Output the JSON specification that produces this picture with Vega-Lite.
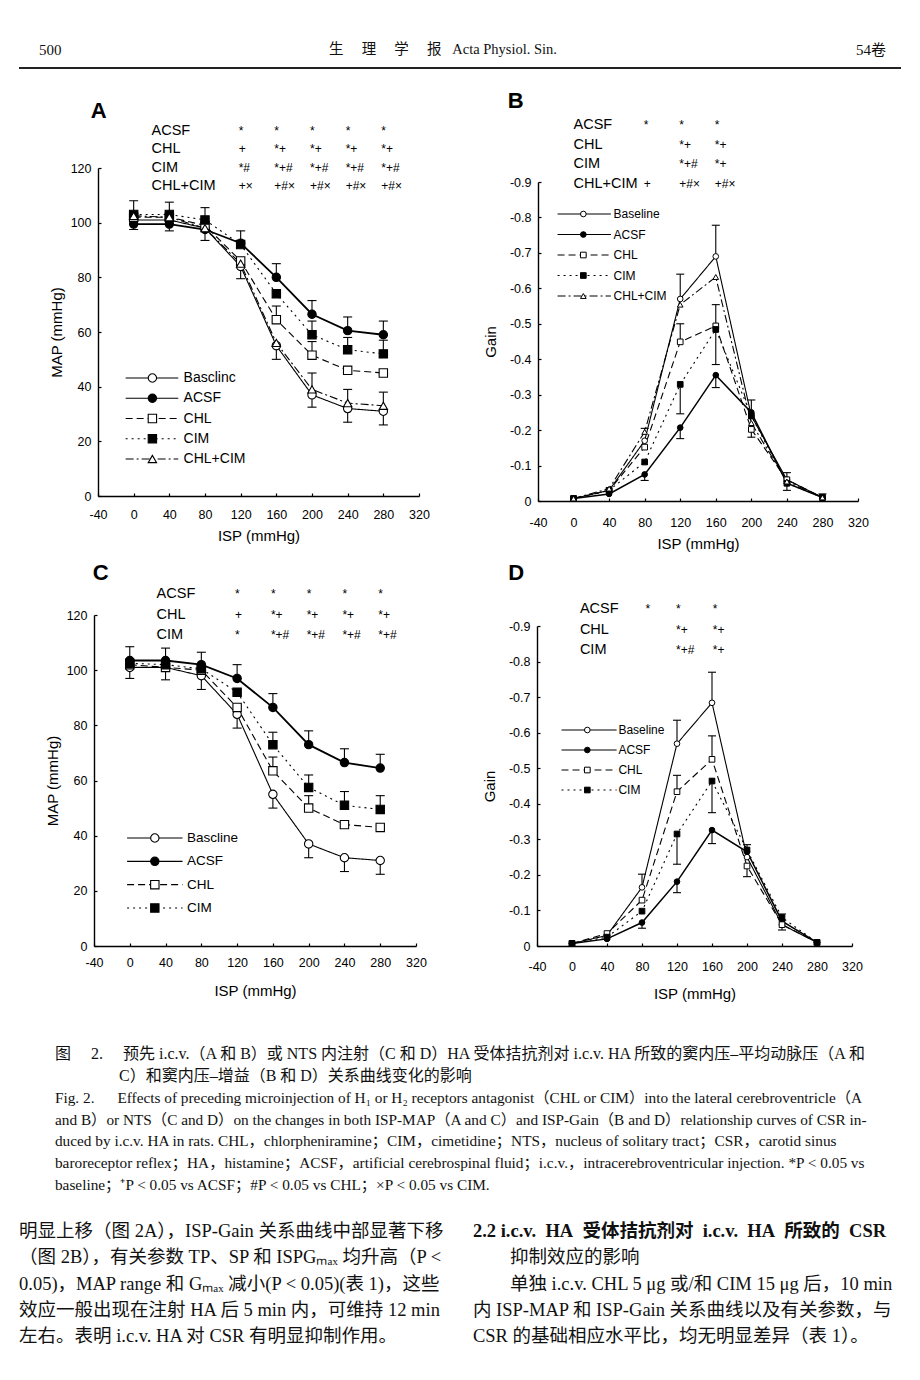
{
 "$schema": "https://vega.github.io/schema/vega-lite/v6.json",
 "background": "white",
 "padding": {"left": 18, "top": 0, "right": 0, "bottom": 0},
 "spacing": 0,
 "datasets": {
  "header": [
   {"part": "l", "t": "500"},
   {"part": "c", "t": "生\u3000\u00a0理\u3000\u00a0学\u3000\u00a0报\u00a0\u00a0\u00a0Acta Physiol. Sin."},
   {"part": "r", "t": "54卷"}
  ],
  "curves": [
   {"p":"A","s":"Baseline","x":0,"v":101},{"p":"A","s":"Baseline","x":40,"v":101},{"p":"A","s":"Baseline","x":80,"v":98,"e":93.5},{"p":"A","s":"Baseline","x":120,"v":84,"e":79.5},{"p":"A","s":"Baseline","x":160,"v":55,"e":50},{"p":"A","s":"Baseline","x":200,"v":37,"e":32.5},{"p":"A","s":"Baseline","x":240,"v":32,"e":27},{"p":"A","s":"Baseline","x":280,"v":31,"e":26},
   {"p":"A","s":"ACSF","x":0,"v":99.5,"e":97.5},{"p":"A","s":"ACSF","x":40,"v":99.5,"e":97},{"p":"A","s":"ACSF","x":80,"v":97.5},{"p":"A","s":"ACSF","x":120,"v":92.5,"e":97},{"p":"A","s":"ACSF","x":160,"v":80,"e":85},{"p":"A","s":"ACSF","x":200,"v":66.5,"e":71.5},{"p":"A","s":"ACSF","x":240,"v":60.5,"e":65.5},{"p":"A","s":"ACSF","x":280,"v":59,"e":64},
   {"p":"A","s":"CHL","x":0,"v":102},{"p":"A","s":"CHL","x":40,"v":102},{"p":"A","s":"CHL","x":80,"v":99},{"p":"A","s":"CHL","x":120,"v":86},{"p":"A","s":"CHL","x":160,"v":64.5,"e":69.5},{"p":"A","s":"CHL","x":200,"v":51.5,"e":56.5},{"p":"A","s":"CHL","x":240,"v":46},{"p":"A","s":"CHL","x":280,"v":45},
   {"p":"A","s":"CIM","x":0,"v":103},{"p":"A","s":"CIM","x":40,"v":103},{"p":"A","s":"CIM","x":80,"v":101,"e":105.5},{"p":"A","s":"CIM","x":120,"v":92},{"p":"A","s":"CIM","x":160,"v":74},{"p":"A","s":"CIM","x":200,"v":59,"e":64},{"p":"A","s":"CIM","x":240,"v":53.5,"e":58},{"p":"A","s":"CIM","x":280,"v":52,"e":57},
   {"p":"A","s":"CHL+CIM","x":0,"v":102.5,"e":108},{"p":"A","s":"CHL+CIM","x":40,"v":102,"e":107.5},{"p":"A","s":"CHL+CIM","x":80,"v":98},{"p":"A","s":"CHL+CIM","x":120,"v":85},{"p":"A","s":"CHL+CIM","x":160,"v":56},{"p":"A","s":"CHL+CIM","x":200,"v":39,"e":45},{"p":"A","s":"CHL+CIM","x":240,"v":34,"e":39},{"p":"A","s":"CHL+CIM","x":280,"v":33,"e":38},

   {"p":"B","s":"Baseline","x":0,"v":-0.007},{"p":"B","s":"Baseline","x":40,"v":-0.03},{"p":"B","s":"Baseline","x":80,"v":-0.17},{"p":"B","s":"Baseline","x":120,"v":-0.57,"e":-0.64},{"p":"B","s":"Baseline","x":160,"v":-0.69,"e":-0.778},{"p":"B","s":"Baseline","x":200,"v":-0.24,"e":-0.285},{"p":"B","s":"Baseline","x":240,"v":-0.06,"e":-0.08},{"p":"B","s":"Baseline","x":280,"v":-0.01,"e":-0.02},
   {"p":"B","s":"ACSF","x":0,"v":-0.007},{"p":"B","s":"ACSF","x":40,"v":-0.02},{"p":"B","s":"ACSF","x":80,"v":-0.075,"e":-0.058},{"p":"B","s":"ACSF","x":120,"v":-0.207,"e":-0.176},{"p":"B","s":"ACSF","x":160,"v":-0.355,"e":-0.32},{"p":"B","s":"ACSF","x":200,"v":-0.25},{"p":"B","s":"ACSF","x":240,"v":-0.05},{"p":"B","s":"ACSF","x":280,"v":-0.01},
   {"p":"B","s":"CHL","x":0,"v":-0.007},{"p":"B","s":"CHL","x":40,"v":-0.03},{"p":"B","s":"CHL","x":80,"v":-0.152},{"p":"B","s":"CHL","x":120,"v":-0.449,"e":-0.5},{"p":"B","s":"CHL","x":160,"v":-0.494,"e":-0.554},{"p":"B","s":"CHL","x":200,"v":-0.202,"e":-0.18},{"p":"B","s":"CHL","x":240,"v":-0.06},{"p":"B","s":"CHL","x":280,"v":-0.01},
   {"p":"B","s":"CIM","x":0,"v":-0.007},{"p":"B","s":"CIM","x":40,"v":-0.03},{"p":"B","s":"CIM","x":80,"v":-0.11},{"p":"B","s":"CIM","x":120,"v":-0.329,"e":-0.246},{"p":"B","s":"CIM","x":160,"v":-0.484,"e":-0.385},{"p":"B","s":"CIM","x":200,"v":-0.24},{"p":"B","s":"CIM","x":240,"v":-0.05,"e":-0.03},{"p":"B","s":"CIM","x":280,"v":-0.01},
   {"p":"B","s":"CHL+CIM","x":0,"v":-0.007},{"p":"B","s":"CHL+CIM","x":40,"v":-0.035},{"p":"B","s":"CHL+CIM","x":80,"v":-0.195,"e":-0.205},{"p":"B","s":"CHL+CIM","x":120,"v":-0.554},{"p":"B","s":"CHL+CIM","x":160,"v":-0.632},{"p":"B","s":"CHL+CIM","x":200,"v":-0.22},{"p":"B","s":"CHL+CIM","x":240,"v":-0.055},{"p":"B","s":"CHL+CIM","x":280,"v":-0.01},

   {"p":"C","s":"Baseline","x":0,"v":101,"e":97},{"p":"C","s":"Baseline","x":40,"v":101,"e":96.5},{"p":"C","s":"Baseline","x":80,"v":98,"e":93},{"p":"C","s":"Baseline","x":120,"v":84,"e":79},{"p":"C","s":"Baseline","x":160,"v":55,"e":50},{"p":"C","s":"Baseline","x":200,"v":37,"e":32},{"p":"C","s":"Baseline","x":240,"v":32,"e":27},{"p":"C","s":"Baseline","x":280,"v":31,"e":26},
   {"p":"C","s":"ACSF","x":0,"v":103.5,"e":108.5},{"p":"C","s":"ACSF","x":40,"v":103.5,"e":108},{"p":"C","s":"ACSF","x":80,"v":102,"e":106.5},{"p":"C","s":"ACSF","x":120,"v":97,"e":102},{"p":"C","s":"ACSF","x":160,"v":86.5,"e":91.5},{"p":"C","s":"ACSF","x":200,"v":73,"e":78},{"p":"C","s":"ACSF","x":240,"v":66.5,"e":71.5},{"p":"C","s":"ACSF","x":280,"v":64.5,"e":69.5},
   {"p":"C","s":"CHL","x":0,"v":102},{"p":"C","s":"CHL","x":40,"v":101},{"p":"C","s":"CHL","x":80,"v":100},{"p":"C","s":"CHL","x":120,"v":86.5},{"p":"C","s":"CHL","x":160,"v":63.5,"e":68.5},{"p":"C","s":"CHL","x":200,"v":50,"e":54.5},{"p":"C","s":"CHL","x":240,"v":44},{"p":"C","s":"CHL","x":280,"v":43},
   {"p":"C","s":"CIM","x":0,"v":102.5},{"p":"C","s":"CIM","x":40,"v":102},{"p":"C","s":"CIM","x":80,"v":100.5},{"p":"C","s":"CIM","x":120,"v":92},{"p":"C","s":"CIM","x":160,"v":73,"e":77.5},{"p":"C","s":"CIM","x":200,"v":57.5,"e":62},{"p":"C","s":"CIM","x":240,"v":51,"e":56},{"p":"C","s":"CIM","x":280,"v":49.5,"e":54.5},

   {"p":"D","s":"Baseline","x":0,"v":-0.007},{"p":"D","s":"Baseline","x":40,"v":-0.03},{"p":"D","s":"Baseline","x":80,"v":-0.165,"e":-0.202},{"p":"D","s":"Baseline","x":120,"v":-0.569,"e":-0.635},{"p":"D","s":"Baseline","x":160,"v":-0.684,"e":-0.77},{"p":"D","s":"Baseline","x":200,"v":-0.25},{"p":"D","s":"Baseline","x":240,"v":-0.06,"e":-0.045},{"p":"D","s":"Baseline","x":280,"v":-0.01},
   {"p":"D","s":"ACSF","x":0,"v":-0.007},{"p":"D","s":"ACSF","x":40,"v":-0.02},{"p":"D","s":"ACSF","x":80,"v":-0.066,"e":-0.05},{"p":"D","s":"ACSF","x":120,"v":-0.181,"e":-0.15},{"p":"D","s":"ACSF","x":160,"v":-0.326,"e":-0.288},{"p":"D","s":"ACSF","x":200,"v":-0.265},{"p":"D","s":"ACSF","x":240,"v":-0.07,"e":-0.09},{"p":"D","s":"ACSF","x":280,"v":-0.01},
   {"p":"D","s":"CHL","x":0,"v":-0.007},{"p":"D","s":"CHL","x":40,"v":-0.035},{"p":"D","s":"CHL","x":80,"v":-0.129},{"p":"D","s":"CHL","x":120,"v":-0.434,"e":-0.48},{"p":"D","s":"CHL","x":160,"v":-0.525,"e":-0.591},{"p":"D","s":"CHL","x":200,"v":-0.225,"e":-0.195},{"p":"D","s":"CHL","x":240,"v":-0.06},{"p":"D","s":"CHL","x":280,"v":-0.01},
   {"p":"D","s":"CIM","x":0,"v":-0.007},{"p":"D","s":"CIM","x":40,"v":-0.025},{"p":"D","s":"CIM","x":80,"v":-0.098},{"p":"D","s":"CIM","x":120,"v":-0.315,"e":-0.23},{"p":"D","s":"CIM","x":160,"v":-0.464,"e":-0.375},{"p":"D","s":"CIM","x":200,"v":-0.27,"e":-0.285},{"p":"D","s":"CIM","x":240,"v":-0.08},{"p":"D","s":"CIM","x":280,"v":-0.01}
  ],
  "annot": [
   {"p":"A","r":"ACSF","x":120,"t":"*"},{"p":"A","r":"ACSF","x":160,"t":"*"},{"p":"A","r":"ACSF","x":200,"t":"*"},{"p":"A","r":"ACSF","x":240,"t":"*"},{"p":"A","r":"ACSF","x":280,"t":"*"},
   {"p":"A","r":"CHL","x":120,"t":"+"},{"p":"A","r":"CHL","x":160,"t":"*+"},{"p":"A","r":"CHL","x":200,"t":"*+"},{"p":"A","r":"CHL","x":240,"t":"*+"},{"p":"A","r":"CHL","x":280,"t":"*+"},
   {"p":"A","r":"CIM","x":120,"t":"*#"},{"p":"A","r":"CIM","x":160,"t":"*+#"},{"p":"A","r":"CIM","x":200,"t":"*+#"},{"p":"A","r":"CIM","x":240,"t":"*+#"},{"p":"A","r":"CIM","x":280,"t":"*+#"},
   {"p":"A","r":"CHL+CIM","x":120,"t":"+×"},{"p":"A","r":"CHL+CIM","x":160,"t":"+#×"},{"p":"A","r":"CHL+CIM","x":200,"t":"+#×"},{"p":"A","r":"CHL+CIM","x":240,"t":"+#×"},{"p":"A","r":"CHL+CIM","x":280,"t":"+#×"},
   {"p":"B","r":"ACSF","x":80,"t":"*"},{"p":"B","r":"ACSF","x":120,"t":"*"},{"p":"B","r":"ACSF","x":160,"t":"*"},
   {"p":"B","r":"CHL","x":120,"t":"*+"},{"p":"B","r":"CHL","x":160,"t":"*+"},
   {"p":"B","r":"CIM","x":120,"t":"*+#"},{"p":"B","r":"CIM","x":160,"t":"*+"},
   {"p":"B","r":"CHL+CIM","x":80,"t":"+"},{"p":"B","r":"CHL+CIM","x":120,"t":"+#×"},{"p":"B","r":"CHL+CIM","x":160,"t":"+#×"},
   {"p":"C","r":"ACSF","x":120,"t":"*"},{"p":"C","r":"ACSF","x":160,"t":"*"},{"p":"C","r":"ACSF","x":200,"t":"*"},{"p":"C","r":"ACSF","x":240,"t":"*"},{"p":"C","r":"ACSF","x":280,"t":"*"},
   {"p":"C","r":"CHL","x":120,"t":"+"},{"p":"C","r":"CHL","x":160,"t":"*+"},{"p":"C","r":"CHL","x":200,"t":"*+"},{"p":"C","r":"CHL","x":240,"t":"*+"},{"p":"C","r":"CHL","x":280,"t":"*+"},
   {"p":"C","r":"CIM","x":120,"t":"*"},{"p":"C","r":"CIM","x":160,"t":"*+#"},{"p":"C","r":"CIM","x":200,"t":"*+#"},{"p":"C","r":"CIM","x":240,"t":"*+#"},{"p":"C","r":"CIM","x":280,"t":"*+#"},
   {"p":"D","r":"ACSF","x":85,"t":"*"},{"p":"D","r":"ACSF","x":120,"t":"*"},{"p":"D","r":"ACSF","x":162,"t":"*"},
   {"p":"D","r":"CHL","x":120,"t":"*+"},{"p":"D","r":"CHL","x":162,"t":"*+"},
   {"p":"D","r":"CIM","x":120,"t":"*+#"},{"p":"D","r":"CIM","x":162,"t":"*+"}
  ],
  "legend": [
   {"p":"A","s":"Baseline","l":"Basclinc"},{"p":"A","s":"ACSF","l":"ACSF"},{"p":"A","s":"CHL","l":"CHL"},{"p":"A","s":"CIM","l":"CIM"},{"p":"A","s":"CHL+CIM","l":"CHL+CIM"},
   {"p":"B","s":"Baseline","l":"Baseline"},{"p":"B","s":"ACSF","l":"ACSF"},{"p":"B","s":"CHL","l":"CHL"},{"p":"B","s":"CIM","l":"CIM"},{"p":"B","s":"CHL+CIM","l":"CHL+CIM"},
   {"p":"C","s":"Baseline","l":"Bascline"},{"p":"C","s":"ACSF","l":"ACSF"},{"p":"C","s":"CHL","l":"CHL"},{"p":"C","s":"CIM","l":"CIM"},
   {"p":"D","s":"Baseline","l":"Baseline"},{"p":"D","s":"ACSF","l":"ACSF"},{"p":"D","s":"CHL","l":"CHL"},{"p":"D","s":"CIM","l":"CIM"}
  ],
  "caption": [
   {"c":"c","line":0,"cjk":true,"t":"图\u3000\u00a02.\u3000\u00a0预先 i.c.v.（A 和 B）或 NTS 内注射（C 和 D）HA 受体拮抗剂对 i.c.v. HA 所致的窦内压–平均动脉压（A 和"},
   {"c":"c","line":1,"cjk":true,"t":"\u200b\u3000\u3000\u3000\u3000C）和窦内压–增益（B 和 D）关系曲线变化的影响"},
   {"c":"c","line":2,"cjk":false,"t":"Fig. 2.\u3000\u00a0\u00a0Effects of preceding microinjection of H₁ or H₂ receptors antagonist（CHL or CIM）into the lateral cerebroventricle（A"},
   {"c":"c","line":3,"cjk":false,"t":"and B）or NTS（C and D）on the changes in both ISP-MAP（A and C）and ISP-Gain（B and D）relationship curves of CSR in-"},
   {"c":"c","line":4,"cjk":false,"t":"duced by i.c.v. HA in rats. CHL，chlorpheniramine；CIM，cimetidine；NTS，nucleus of solitary tract；CSR，carotid sinus"},
   {"c":"c","line":5,"cjk":false,"t":"baroreceptor reflex；HA，histamine；ACSF，artificial cerebrospinal fluid；i.c.v.，intracerebroventricular injection. *P < 0.05 vs"},
   {"c":"c","line":6,"cjk":false,"t":"baseline；⁺P < 0.05 vs ACSF；#P < 0.05 vs CHL；×P < 0.05 vs CIM."}
  ],
  "body": [
   {"c":"L","line":0,"b":false,"t":"明显上移（图 2A），ISP-Gain 关系曲线中部显著下移"},
   {"c":"L","line":1,"b":false,"t":"（图 2B），有关参数 TP、SP 和 ISPGₘₐₓ 均升高（P <"},
   {"c":"L","line":2,"b":false,"t":"0.05)，MAP range 和 Gₘₐₓ 减小(P < 0.05)(表 1)，这些"},
   {"c":"L","line":3,"b":false,"t":"效应一般出现在注射 HA 后 5 min 内，可维持 12 min"},
   {"c":"L","line":4,"b":false,"t":"左右。表明 i.c.v. HA 对 CSR 有明显抑制作用。"},
   {"c":"R","line":0,"b":true,"t":"2.2\u00a0i.c.v.\u00a0 HA\u00a0 受体拮抗剂对\u00a0 i.c.v.\u00a0 HA\u00a0 所致的\u00a0 CSR"},
   {"c":"R","line":1,"b":false,"t":"\u200b\u3000\u3000抑制效应的影响"},
   {"c":"R","line":2,"b":false,"t":"\u200b\u3000\u3000单独 i.c.v. CHL 5 μg 或/和 CIM 15 μg 后，10 min"},
   {"c":"R","line":3,"b":false,"t":"内 ISP-MAP 和 ISP-Gain 关系曲线以及有关参数，与"},
   {"c":"R","line":4,"b":false,"t":"CSR 的基础相应水平比，均无明显差异（表 1）。"}
  ]
 },
 "vconcat": [
  {
   "width": 882, "height": 68,
   "layer": [
    {"data": {"values": [{"k": 1}]}, "mark": {"type": "rule", "color": "#222", "strokeWidth": 1.8},
     "encoding": {"y": {"datum": 0, "type": "quantitative", "scale": {"domain": [0, 1]}, "axis": null}}},
    {"data": {"name": "header"}, "transform": [{"filter": "datum.part === 'l'"}],
     "mark": {"type": "text", "align": "left", "baseline": "middle", "font": "Liberation Serif, Noto Sans CJK SC", "fontSize": 15, "color": "#111"},
     "encoding": {"x": {"field": "part", "type": "nominal", "scale": {"type": "point", "domain": ["l", "c", "r"], "padding": 0.0475}, "axis": null},
                  "y": {"datum": 0.26, "type": "quantitative"}, "text": {"field": "t"}}},
    {"data": {"name": "header"}, "transform": [{"filter": "datum.part === 'c'"}],
     "mark": {"type": "text", "align": "center", "baseline": "middle", "dx": -17, "font": "Liberation Serif, Noto Sans CJK SC", "fontSize": 14.5, "color": "#111"},
     "encoding": {"x": {"field": "part", "type": "nominal"}, "y": {"datum": 0.26, "type": "quantitative"}, "text": {"field": "t"}}},
    {"data": {"name": "header"}, "transform": [{"filter": "datum.part === 'r'"}],
     "mark": {"type": "text", "align": "right", "baseline": "middle", "dx": 5, "font": "Liberation Serif, Noto Sans CJK SC", "fontSize": 15, "color": "#111"},
     "encoding": {"x": {"field": "part", "type": "nominal"}, "y": {"datum": 0.26, "type": "quantitative"}, "text": {"field": "t"}}}
   ]
  },
  {
   "spacing": 0,
   "hconcat": [
    {"width": 30, "height": 1, "data": {"values": [{"k": 1}]}, "mark": {"type": "text", "text": ""}},
    {"spacing": 0, "bounds": "flush", "vconcat": [
     {"width": 1, "height": 93, "data": {"values": [{"k": 1}]}, "mark": {"type": "text", "text": ""}},
     {
      "width": 321, "height": 328,
      "resolve": {"scale": {"y": "independent"}},
      "layer": [
       {"data": {"name": "curves"}, "transform": [{"filter": "datum.p === 'A'"}],
        "layer": [
         {"transform": [{"filter": "datum.s !== 'ACSF'"}],
          "mark": {"type": "line", "color": "black", "strokeWidth": 1.1},
          "encoding": {
           "x": {"field": "x", "type": "quantitative", "scale": {"domain": [-40, 320], "nice": false, "zero": false},
                 "axis": {"values": [-40,0,40,80,120,160,200,240,280,320], "tickCount": 30, "labelExpr": "datum.value < 0 ? '-' + abs(datum.value) : '' + datum.value", "title": "ISP (mmHg)", "labelPadding": 15, "titlePadding": 8, "labelOverlap": false, "labelBound": false}},
           "y": {"field": "v", "type": "quantitative", "scale": {"domain": [0, 120], "nice": false},
                 "axis": {"values": [0,20,40,60,80,100,120], "tickCount": 30, "title": "MAP (mmHg)", "titlePadding": 6, "labelPadding": 10, "labelOverlap": false, "labelBound": false}},
           "strokeDash": {"field": "s", "type": "nominal", "scale": {"domain": ["Baseline","ACSF","CHL","CIM","CHL+CIM"], "range": [[1,0],[1,0],[7,4],[2,4],[8,3,2,3]]}, "legend": null}
          }},
         {"transform": [{"filter": "datum.s === 'ACSF'"}],
          "mark": {"type": "line", "color": "black", "strokeWidth": 1.8},
          "encoding": {"x": {"field": "x", "type": "quantitative"}, "y": {"field": "v", "type": "quantitative"}}},
         {"transform": [{"filter": "isValid(datum.e)"}],
          "mark": {"type": "rule", "color": "black", "strokeWidth": 1.1},
          "encoding": {"x": {"field": "x", "type": "quantitative"}, "y": {"field": "v", "type": "quantitative"}, "y2": {"field": "e"}}},
         {"transform": [{"filter": "isValid(datum.e)"}],
          "mark": {"type": "tick", "orient": "horizontal", "color": "black", "size": 9, "thickness": 1.1, "opacity": 1},
          "encoding": {"x": {"field": "x", "type": "quantitative"}, "y": {"field": "e", "type": "quantitative"}}},
         {"mark": {"type": "point", "filled": true, "stroke": "black", "strokeWidth": 1.1, "size": 70, "opacity": 1},
          "encoding": {"x": {"field": "x", "type": "quantitative"}, "y": {"field": "v", "type": "quantitative"},
           "shape": {"field": "s", "type": "nominal", "scale": {"domain": ["Baseline","ACSF","CHL","CIM","CHL+CIM"], "range": ["circle","circle","square","square","triangle-up"]}, "legend": null},
           "fill": {"field": "s", "type": "nominal", "scale": {"domain": ["Baseline","ACSF","CHL","CIM","CHL+CIM"], "range": ["white","black","white","black","white"]}, "legend": null}}}
        ]},
       {"data": {"values": [{"t": "A"}]},
        "mark": {"type": "text", "align": "left", "baseline": "middle", "fontSize": 22, "fontWeight": "bold", "color": "black"},
        "encoding": {"x": {"datum": -48}, "y": {"field": "t", "type": "nominal", "scale": {"type": "point", "domain": ["A"], "range": [-57, -57]}, "axis": null}, "text": {"field": "t"}}},
       {"data": {"name": "annot"}, "transform": [{"filter": "datum.p === 'A'"}, {"aggregate": [{"op": "count", "as": "n"}], "groupby": ["r"]}],
        "mark": {"type": "text", "align": "left", "baseline": "middle", "fontSize": 14.5, "color": "black"},
        "encoding": {"x": {"datum": 20}, "y": {"field": "r", "type": "nominal", "scale": {"type": "point", "domain": ["ACSF","CHL","CIM","CHL+CIM"], "range": [-37, 18], "padding": 0}, "axis": null}, "text": {"field": "r"}}},
       {"data": {"name": "annot"}, "transform": [{"filter": "datum.p === 'A'"}],
        "mark": {"type": "text", "align": "left", "baseline": "middle", "fontSize": 12, "dx": -2, "color": "black"},
        "encoding": {"x": {"field": "x", "type": "quantitative"}, "y": {"field": "r", "type": "nominal", "scale": {"type": "point", "domain": ["ACSF","CHL","CIM","CHL+CIM"], "range": [-37, 18], "padding": 0}, "axis": null}, "text": {"field": "t"}}},
       {"data": {"name": "legend"}, "transform": [{"filter": "datum.p === 'A'"}],
        "mark": {"type": "rule", "color": "black", "strokeWidth": 1.1},
        "encoding": {"x": {"datum": -9}, "x2": {"datum": 50},
         "y": {"field": "s", "type": "nominal", "scale": {"type": "point", "domain": ["Baseline","ACSF","CHL","CIM","CHL+CIM"], "range": [210, 291], "padding": 0}, "axis": null},
         "strokeDash": {"field": "s", "type": "nominal", "legend": null}}},
       {"data": {"name": "legend"}, "transform": [{"filter": "datum.p === 'A'"}],
        "mark": {"type": "point", "filled": true, "stroke": "black", "strokeWidth": 1.1, "size": 70, "opacity": 1},
        "encoding": {"x": {"datum": 21},
         "y": {"field": "s", "type": "nominal", "scale": {"type": "point", "domain": ["Baseline","ACSF","CHL","CIM","CHL+CIM"], "range": [210, 291], "padding": 0}, "axis": null},
         "shape": {"field": "s", "type": "nominal", "legend": null}, "fill": {"field": "s", "type": "nominal", "legend": null}}},
       {"data": {"name": "legend"}, "transform": [{"filter": "datum.p === 'A'"}],
        "mark": {"type": "text", "align": "left", "baseline": "middle", "fontSize": 14, "color": "black"},
        "encoding": {"x": {"datum": 56},
         "y": {"field": "s", "type": "nominal", "scale": {"type": "point", "domain": ["Baseline","ACSF","CHL","CIM","CHL+CIM"], "range": [210, 291], "padding": 0}, "axis": null},
         "text": {"field": "l"}}}
      ]
     }
    ]},
    {"width": 53, "height": 1, "data": {"values": [{"k": 1}]}, "mark": {"type": "text", "text": ""}},
    {"spacing": 0, "bounds": "flush", "vconcat": [
     {"width": 1, "height": 107, "data": {"values": [{"k": 1}]}, "mark": {"type": "text", "text": ""}},
     {
      "width": 320, "height": 319,
      "resolve": {"scale": {"y": "independent"}},
      "layer": [
       {"data": {"name": "curves"}, "transform": [{"filter": "datum.p === 'B'"}],
        "layer": [
         {"transform": [{"filter": "datum.s !== 'ACSF'"}],
          "mark": {"type": "line", "color": "black", "strokeWidth": 1.1},
          "encoding": {
           "x": {"field": "x", "type": "quantitative", "scale": {"domain": [-40, 320], "nice": false, "zero": false},
                 "axis": {"values": [-40,0,40,80,120,160,200,240,280,320], "tickCount": 30, "labelExpr": "datum.value < 0 ? '-' + abs(datum.value) : '' + datum.value", "title": "ISP (mmHg)", "labelPadding": 18, "titlePadding": 8, "labelOverlap": false, "labelBound": false}},
           "y": {"field": "v", "type": "quantitative", "scale": {"domain": [-0.9, 0], "reverse": true, "nice": false, "zero": false},
                 "axis": {"values": [0,-0.1,-0.2,-0.3,-0.4,-0.5,-0.6,-0.7,-0.8,-0.9], "tickCount": 30, "labelExpr": "datum.value === 0 ? '0' : '-' + format(abs(datum.value), '.1f')", "title": "Gain", "titlePadding": 11, "labelPadding": 10, "labelOverlap": false, "labelBound": false}},
           "strokeDash": {"field": "s", "type": "nominal", "scale": {"domain": ["Baseline","ACSF","CHL","CIM","CHL+CIM"], "range": [[1,0],[1,0],[7,4],[2,4],[8,3,2,3]]}, "legend": null}
          }},
         {"transform": [{"filter": "datum.s === 'ACSF'"}],
          "mark": {"type": "line", "color": "black", "strokeWidth": 1.5},
          "encoding": {"x": {"field": "x", "type": "quantitative"}, "y": {"field": "v", "type": "quantitative"}}},
         {"transform": [{"filter": "isValid(datum.e)"}],
          "mark": {"type": "rule", "color": "black", "strokeWidth": 1.1},
          "encoding": {"x": {"field": "x", "type": "quantitative"}, "y": {"field": "v", "type": "quantitative"}, "y2": {"field": "e"}}},
         {"transform": [{"filter": "isValid(datum.e)"}],
          "mark": {"type": "tick", "orient": "horizontal", "color": "black", "size": 8, "thickness": 1.1, "opacity": 1},
          "encoding": {"x": {"field": "x", "type": "quantitative"}, "y": {"field": "e", "type": "quantitative"}}},
         {"mark": {"type": "point", "filled": true, "stroke": "black", "strokeWidth": 1, "size": 32, "opacity": 1},
          "encoding": {"x": {"field": "x", "type": "quantitative"}, "y": {"field": "v", "type": "quantitative"},
           "shape": {"field": "s", "type": "nominal", "legend": null},
           "fill": {"field": "s", "type": "nominal", "legend": null}}}
        ]},
       {"data": {"values": [{"t": "B"}]},
        "mark": {"type": "text", "align": "left", "baseline": "middle", "fontSize": 22, "fontWeight": "bold", "color": "black"},
        "encoding": {"x": {"datum": -74}, "y": {"field": "t", "type": "nominal", "scale": {"type": "point", "domain": ["B"], "range": [-81, -81]}, "axis": null}, "text": {"field": "t"}}},
       {"data": {"name": "annot"}, "transform": [{"filter": "datum.p === 'B'"}, {"aggregate": [{"op": "count", "as": "n"}], "groupby": ["r"]}],
        "mark": {"type": "text", "align": "left", "baseline": "middle", "fontSize": 14.5, "color": "black"},
        "encoding": {"x": {"datum": 0}, "y": {"field": "r", "type": "nominal", "scale": {"type": "point", "domain": ["ACSF","CHL","CIM","CHL+CIM"], "range": [-57, 2], "padding": 0}, "axis": null}, "text": {"field": "r"}}},
       {"data": {"name": "annot"}, "transform": [{"filter": "datum.p === 'B'"}],
        "mark": {"type": "text", "align": "left", "baseline": "middle", "fontSize": 12, "dx": -1, "color": "black"},
        "encoding": {"x": {"field": "x", "type": "quantitative"}, "y": {"field": "r", "type": "nominal", "scale": {"type": "point", "domain": ["ACSF","CHL","CIM","CHL+CIM"], "range": [-57, 2], "padding": 0}, "axis": null}, "text": {"field": "t"}}},
       {"data": {"name": "legend"}, "transform": [{"filter": "datum.p === 'B'"}],
        "mark": {"type": "rule", "color": "black", "strokeWidth": 1.1},
        "encoding": {"x": {"datum": -18}, "x2": {"datum": 42},
         "y": {"field": "s", "type": "nominal", "scale": {"type": "point", "domain": ["Baseline","ACSF","CHL","CIM","CHL+CIM"], "range": [32, 114], "padding": 0}, "axis": null},
         "strokeDash": {"field": "s", "type": "nominal", "legend": null}}},
       {"data": {"name": "legend"}, "transform": [{"filter": "datum.p === 'B'"}],
        "mark": {"type": "point", "filled": true, "stroke": "black", "strokeWidth": 1, "size": 32, "opacity": 1},
        "encoding": {"x": {"datum": 11},
         "y": {"field": "s", "type": "nominal", "scale": {"type": "point", "domain": ["Baseline","ACSF","CHL","CIM","CHL+CIM"], "range": [32, 114], "padding": 0}, "axis": null},
         "shape": {"field": "s", "type": "nominal", "legend": null}, "fill": {"field": "s", "type": "nominal", "legend": null}}},
       {"data": {"name": "legend"}, "transform": [{"filter": "datum.p === 'B'"}],
        "mark": {"type": "text", "align": "left", "baseline": "middle", "fontSize": 12, "color": "black"},
        "encoding": {"x": {"datum": 45},
         "y": {"field": "s", "type": "nominal", "scale": {"type": "point", "domain": ["Baseline","ACSF","CHL","CIM","CHL+CIM"], "range": [32, 114], "padding": 0}, "axis": null},
         "text": {"field": "l"}}}
      ]
     }
    ]}
   ]
  },
  {
   "spacing": 0,
   "hconcat": [
    {"width": 26, "height": 1, "data": {"values": [{"k": 1}]}, "mark": {"type": "text", "text": ""}},
    {"spacing": 0, "bounds": "flush", "vconcat": [
     {"width": 1, "height": 57, "data": {"values": [{"k": 1}]}, "mark": {"type": "text", "text": ""}},
     {
      "width": 322, "height": 331,
      "resolve": {"scale": {"y": "independent"}},
      "layer": [
       {"data": {"name": "curves"}, "transform": [{"filter": "datum.p === 'C'"}],
        "layer": [
         {"transform": [{"filter": "datum.s !== 'ACSF'"}],
          "mark": {"type": "line", "color": "black", "strokeWidth": 1.1},
          "encoding": {
           "x": {"field": "x", "type": "quantitative", "scale": {"domain": [-40, 320], "nice": false, "zero": false},
                 "axis": {"values": [-40,0,40,80,120,160,200,240,280,320], "tickCount": 30, "labelExpr": "datum.value < 0 ? '-' + abs(datum.value) : '' + datum.value", "title": "ISP (mmHg)", "labelPadding": 13, "titlePadding": 15, "labelOverlap": false, "labelBound": false}},
           "y": {"field": "v", "type": "quantitative", "scale": {"domain": [0, 120], "nice": false},
                 "axis": {"values": [0,20,40,60,80,100,120], "tickCount": 30, "title": "MAP (mmHg)", "titlePadding": 6, "labelPadding": 10, "labelOverlap": false, "labelBound": false}},
           "strokeDash": {"field": "s", "type": "nominal", "scale": {"domain": ["Baseline","ACSF","CHL","CIM","CHL+CIM"], "range": [[1,0],[1,0],[7,4],[2,4],[8,3,2,3]]}, "legend": null}
          }},
         {"transform": [{"filter": "datum.s === 'ACSF'"}],
          "mark": {"type": "line", "color": "black", "strokeWidth": 1.8},
          "encoding": {"x": {"field": "x", "type": "quantitative"}, "y": {"field": "v", "type": "quantitative"}}},
         {"transform": [{"filter": "isValid(datum.e)"}],
          "mark": {"type": "rule", "color": "black", "strokeWidth": 1.1},
          "encoding": {"x": {"field": "x", "type": "quantitative"}, "y": {"field": "v", "type": "quantitative"}, "y2": {"field": "e"}}},
         {"transform": [{"filter": "isValid(datum.e)"}],
          "mark": {"type": "tick", "orient": "horizontal", "color": "black", "size": 9, "thickness": 1.1, "opacity": 1},
          "encoding": {"x": {"field": "x", "type": "quantitative"}, "y": {"field": "e", "type": "quantitative"}}},
         {"mark": {"type": "point", "filled": true, "stroke": "black", "strokeWidth": 1.1, "size": 70, "opacity": 1},
          "encoding": {"x": {"field": "x", "type": "quantitative"}, "y": {"field": "v", "type": "quantitative"},
           "shape": {"field": "s", "type": "nominal", "legend": null},
           "fill": {"field": "s", "type": "nominal", "legend": null}}}
        ]},
       {"data": {"values": [{"t": "C"}]},
        "mark": {"type": "text", "align": "left", "baseline": "middle", "fontSize": 22, "fontWeight": "bold", "color": "black"},
        "encoding": {"x": {"datum": -41.5}, "y": {"field": "t", "type": "nominal", "scale": {"type": "point", "domain": ["C"], "range": [-42, -42]}, "axis": null}, "text": {"field": "t"}}},
       {"data": {"name": "annot"}, "transform": [{"filter": "datum.p === 'C'"}, {"aggregate": [{"op": "count", "as": "n"}], "groupby": ["r"]}],
        "mark": {"type": "text", "align": "left", "baseline": "middle", "fontSize": 14.5, "color": "black"},
        "encoding": {"x": {"datum": 30}, "y": {"field": "r", "type": "nominal", "scale": {"type": "point", "domain": ["ACSF","CHL","CIM"], "range": [-21, 20], "padding": 0}, "axis": null}, "text": {"field": "r"}}},
       {"data": {"name": "annot"}, "transform": [{"filter": "datum.p === 'C'"}],
        "mark": {"type": "text", "align": "left", "baseline": "middle", "fontSize": 12, "dx": -2, "color": "black"},
        "encoding": {"x": {"field": "x", "type": "quantitative"}, "y": {"field": "r", "type": "nominal", "scale": {"type": "point", "domain": ["ACSF","CHL","CIM"], "range": [-21, 20], "padding": 0}, "axis": null}, "text": {"field": "t"}}},
       {"data": {"name": "legend"}, "transform": [{"filter": "datum.p === 'C'"}],
        "mark": {"type": "rule", "color": "black", "strokeWidth": 1.1},
        "encoding": {"x": {"datum": -3}, "x2": {"datum": 59},
         "y": {"field": "s", "type": "nominal", "scale": {"type": "point", "domain": ["Baseline","ACSF","CHL","CIM"], "range": [223, 293], "padding": 0}, "axis": null},
         "strokeDash": {"field": "s", "type": "nominal", "legend": null}}},
       {"data": {"name": "legend"}, "transform": [{"filter": "datum.p === 'C'"}],
        "mark": {"type": "point", "filled": true, "stroke": "black", "strokeWidth": 1.1, "size": 70, "opacity": 1},
        "encoding": {"x": {"datum": 28},
         "y": {"field": "s", "type": "nominal", "scale": {"type": "point", "domain": ["Baseline","ACSF","CHL","CIM"], "range": [223, 293], "padding": 0}, "axis": null},
         "shape": {"field": "s", "type": "nominal", "legend": null}, "fill": {"field": "s", "type": "nominal", "legend": null}}},
       {"data": {"name": "legend"}, "transform": [{"filter": "datum.p === 'C'"}],
        "mark": {"type": "text", "align": "left", "baseline": "middle", "fontSize": 13.5, "color": "black"},
        "encoding": {"x": {"datum": 64},
         "y": {"field": "s", "type": "nominal", "scale": {"type": "point", "domain": ["Baseline","ACSF","CHL","CIM"], "range": [223, 293], "padding": 0}, "axis": null},
         "text": {"field": "l"}}}
      ]
     }
    ]},
    {"width": 55, "height": 1, "data": {"values": [{"k": 1}]}, "mark": {"type": "text", "text": ""}},
    {"spacing": 0, "bounds": "flush", "vconcat": [
     {"width": 1, "height": 68, "data": {"values": [{"k": 1}]}, "mark": {"type": "text", "text": ""}},
     {
      "width": 315, "height": 320,
      "resolve": {"scale": {"y": "independent"}},
      "layer": [
       {"data": {"name": "curves"}, "transform": [{"filter": "datum.p === 'D'"}],
        "layer": [
         {"transform": [{"filter": "datum.s !== 'ACSF'"}],
          "mark": {"type": "line", "color": "black", "strokeWidth": 1.1},
          "encoding": {
           "x": {"field": "x", "type": "quantitative", "scale": {"domain": [-40, 320], "nice": false, "zero": false},
                 "axis": {"values": [-40,0,40,80,120,160,200,240,280,320], "tickCount": 30, "labelExpr": "datum.value < 0 ? '-' + abs(datum.value) : '' + datum.value", "title": "ISP (mmHg)", "labelPadding": 17, "titlePadding": 14, "labelOverlap": false, "labelBound": false}},
           "y": {"field": "v", "type": "quantitative", "scale": {"domain": [-0.9, 0], "reverse": true, "nice": false, "zero": false},
                 "axis": {"values": [0,-0.1,-0.2,-0.3,-0.4,-0.5,-0.6,-0.7,-0.8,-0.9], "tickCount": 30, "labelExpr": "datum.value === 0 ? '0' : '-' + format(abs(datum.value), '.1f')", "title": "Gain", "titlePadding": 11, "labelPadding": 10, "labelOverlap": false, "labelBound": false}},
           "strokeDash": {"field": "s", "type": "nominal", "scale": {"domain": ["Baseline","ACSF","CHL","CIM","CHL+CIM"], "range": [[1,0],[1,0],[7,4],[2,4],[8,3,2,3]]}, "legend": null}
          }},
         {"transform": [{"filter": "datum.s === 'ACSF'"}],
          "mark": {"type": "line", "color": "black", "strokeWidth": 1.5},
          "encoding": {"x": {"field": "x", "type": "quantitative"}, "y": {"field": "v", "type": "quantitative"}}},
         {"transform": [{"filter": "isValid(datum.e)"}],
          "mark": {"type": "rule", "color": "black", "strokeWidth": 1.1},
          "encoding": {"x": {"field": "x", "type": "quantitative"}, "y": {"field": "v", "type": "quantitative"}, "y2": {"field": "e"}}},
         {"transform": [{"filter": "isValid(datum.e)"}],
          "mark": {"type": "tick", "orient": "horizontal", "color": "black", "size": 8, "thickness": 1.1, "opacity": 1},
          "encoding": {"x": {"field": "x", "type": "quantitative"}, "y": {"field": "e", "type": "quantitative"}}},
         {"mark": {"type": "point", "filled": true, "stroke": "black", "strokeWidth": 1, "size": 32, "opacity": 1},
          "encoding": {"x": {"field": "x", "type": "quantitative"}, "y": {"field": "v", "type": "quantitative"},
           "shape": {"field": "s", "type": "nominal", "legend": null},
           "fill": {"field": "s", "type": "nominal", "legend": null}}}
        ]},
       {"data": {"values": [{"t": "D"}]},
        "mark": {"type": "text", "align": "left", "baseline": "middle", "fontSize": 22, "fontWeight": "bold", "color": "black"},
        "encoding": {"x": {"datum": -73}, "y": {"field": "t", "type": "nominal", "scale": {"type": "point", "domain": ["D"], "range": [-53, -53]}, "axis": null}, "text": {"field": "t"}}},
       {"data": {"name": "annot"}, "transform": [{"filter": "datum.p === 'D'"}, {"aggregate": [{"op": "count", "as": "n"}], "groupby": ["r"]}],
        "mark": {"type": "text", "align": "left", "baseline": "middle", "fontSize": 14.5, "color": "black"},
        "encoding": {"x": {"datum": 9}, "y": {"field": "r", "type": "nominal", "scale": {"type": "point", "domain": ["ACSF","CHL","CIM"], "range": [-17, 24], "padding": 0}, "axis": null}, "text": {"field": "r"}}},
       {"data": {"name": "annot"}, "transform": [{"filter": "datum.p === 'D'"}],
        "mark": {"type": "text", "align": "left", "baseline": "middle", "fontSize": 12, "dx": -1, "color": "black"},
        "encoding": {"x": {"field": "x", "type": "quantitative"}, "y": {"field": "r", "type": "nominal", "scale": {"type": "point", "domain": ["ACSF","CHL","CIM"], "range": [-17, 24], "padding": 0}, "axis": null}, "text": {"field": "t"}}},
       {"data": {"name": "legend"}, "transform": [{"filter": "datum.p === 'D'"}],
        "mark": {"type": "rule", "color": "black", "strokeWidth": 1.1},
        "encoding": {"x": {"datum": -12}, "x2": {"datum": 51},
         "y": {"field": "s", "type": "nominal", "scale": {"type": "point", "domain": ["Baseline","ACSF","CHL","CIM"], "range": [104, 164], "padding": 0}, "axis": null},
         "strokeDash": {"field": "s", "type": "nominal", "legend": null}}},
       {"data": {"name": "legend"}, "transform": [{"filter": "datum.p === 'D'"}],
        "mark": {"type": "point", "filled": true, "stroke": "black", "strokeWidth": 1, "size": 32, "opacity": 1},
        "encoding": {"x": {"datum": 17.5},
         "y": {"field": "s", "type": "nominal", "scale": {"type": "point", "domain": ["Baseline","ACSF","CHL","CIM"], "range": [104, 164], "padding": 0}, "axis": null},
         "shape": {"field": "s", "type": "nominal", "legend": null}, "fill": {"field": "s", "type": "nominal", "legend": null}}},
       {"data": {"name": "legend"}, "transform": [{"filter": "datum.p === 'D'"}],
        "mark": {"type": "text", "align": "left", "baseline": "middle", "fontSize": 12, "color": "black"},
        "encoding": {"x": {"datum": 53},
         "y": {"field": "s", "type": "nominal", "scale": {"type": "point", "domain": ["Baseline","ACSF","CHL","CIM"], "range": [104, 164], "padding": 0}, "axis": null},
         "text": {"field": "l"}}}
      ]
     }
    ]}
   ]
  },
  {"width": 1, "height": 44, "data": {"values": [{"k": 1}]}, "mark": {"type": "text", "text": ""}},
  {
   "width": 882, "height": 131,
   "data": {"name": "caption"},
   "layer": [
    {"transform": [{"filter": "datum.cjk"}],
     "mark": {"type": "text", "align": "left", "baseline": "middle", "font": "Liberation Serif, Noto Sans CJK SC", "fontSize": 16, "color": "#111"},
     "encoding": {
      "x": {"field": "c", "type": "nominal", "scale": {"type": "band", "domain": ["c"], "paddingOuter": 0.0444, "paddingInner": 0}, "axis": null, "bandPosition": 0},
      "y": {"field": "line", "type": "ordinal", "scale": {"type": "point", "padding": 0, "domain": [0, 1, 2, 3, 4, 5, 6]}, "axis": null},
      "text": {"field": "t"}
     }},
    {"transform": [{"filter": "!datum.cjk"}],
     "mark": {"type": "text", "align": "left", "baseline": "middle", "font": "Liberation Serif, Noto Sans CJK SC", "fontSize": 15.3, "color": "#111"},
     "encoding": {
      "x": {"field": "c", "type": "nominal", "bandPosition": 0},
      "y": {"field": "line", "type": "ordinal"},
      "text": {"field": "t"}
     }}
   ]
  },
  {"width": 1, "height": 28, "data": {"values": [{"k": 1}]}, "mark": {"type": "text", "text": ""}},
  {
   "width": 882, "height": 105,
   "data": {"name": "body"},
   "layer": [
    {"transform": [{"filter": "!datum.b"}],
     "mark": {"type": "text", "align": "left", "baseline": "middle", "font": "Liberation Serif, Noto Sans CJK SC", "fontSize": 18.5, "color": "#111"},
     "encoding": {
      "x": {"field": "c", "type": "nominal", "scale": {"type": "band", "domain": ["L", "R"], "paddingOuter": 0, "paddingInner": 0.057}, "axis": null, "bandPosition": 0},
      "y": {"field": "line", "type": "ordinal", "scale": {"type": "point", "padding": 0, "domain": [0, 1, 2, 3, 4]}, "axis": null},
      "text": {"field": "t"}
     }},
    {"transform": [{"filter": "datum.b"}],
     "mark": {"type": "text", "align": "left", "baseline": "middle", "font": "Liberation Serif, Noto Sans CJK SC", "fontSize": 18.5, "fontWeight": "bold", "color": "#111"},
     "encoding": {
      "x": {"field": "c", "type": "nominal", "bandPosition": 0},
      "y": {"field": "line", "type": "ordinal"},
      "text": {"field": "t"}
     }}
   ]
  }
 ],
 "config": {
  "view": {"stroke": null},
  "font": "Liberation Sans",
  "concat": {"spacing": 0},
  "axis": {"grid": false, "domainColor": "#000", "domainWidth": 1.4, "tickColor": "#000", "tickSize": -3, "tickWidth": 1.2,
           "labelColor": "#000", "labelFontSize": 12.5, "labelFont": "Liberation Sans", "titleFont": "Liberation Sans",
           "titleFontSize": 15, "titleFontWeight": "normal", "titleColor": "#000", "labelPadding": 3, "labelFlush": false, "labelOverlap": false}
 }
}
